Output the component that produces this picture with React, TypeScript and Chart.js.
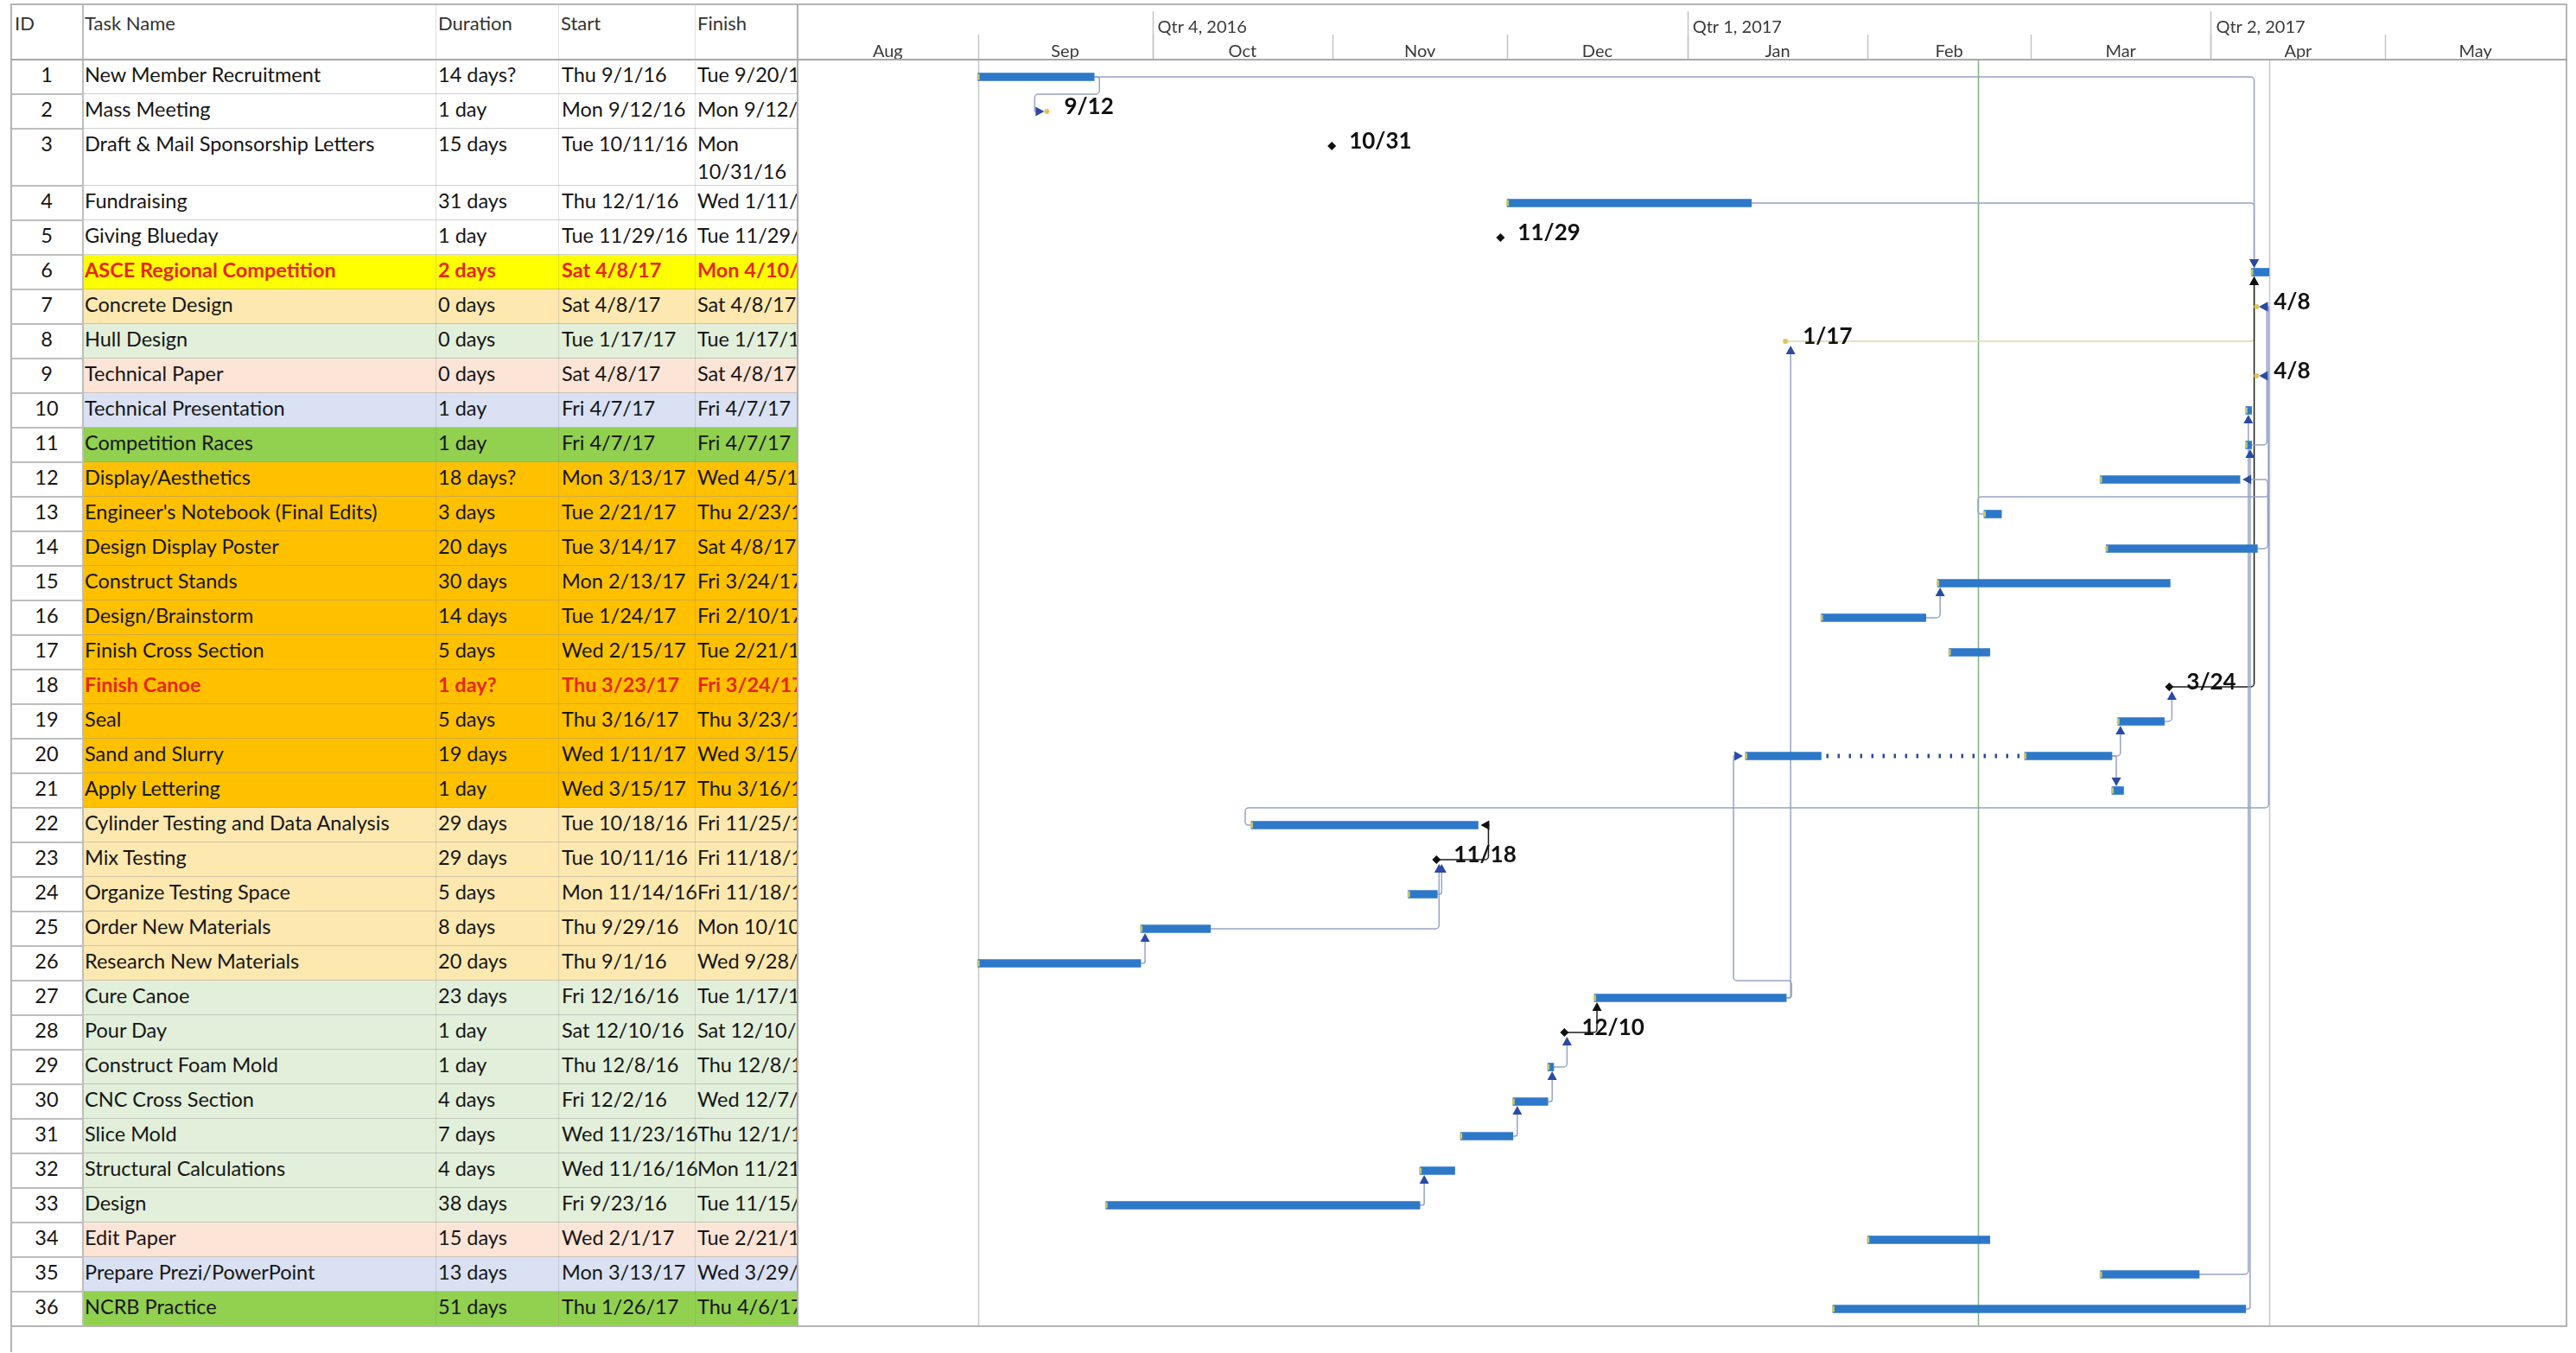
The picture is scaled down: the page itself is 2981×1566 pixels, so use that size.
import React, { useEffect, useRef } from "react";
import { Chart, registerables } from "chart.js";

Chart.register(...registerables);

// ---------------- project sheet ----------------
const taskIds = [
  1, 2, 3, 4, 5, 6, 7, 8, 9, 10, 11, 12, 13, 14, 15, 16, 17, 18,
  19, 20, 21, 22, 23, 24, 25, 26, 27, 28, 29, 30, 31, 32, 33, 34, 35, 36,
];

const taskNames = [
  "New Member Recruitment",
  "Mass Meeting",
  "Draft & Mail Sponsorship Letters",
  "Fundraising",
  "Giving Blueday",
  "ASCE Regional Competition",
  "Concrete Design",
  "Hull Design",
  "Technical Paper",
  "Technical Presentation",
  "Competition Races",
  "Display/Aesthetics",
  "Engineer's Notebook (Final Edits)",
  "Design Display Poster",
  "Construct Stands",
  "Design/Brainstorm",
  "Finish Cross Section",
  "Finish Canoe",
  "Seal",
  "Sand and Slurry",
  "Apply Lettering",
  "Cylinder Testing and Data Analysis",
  "Mix Testing",
  "Organize Testing Space",
  "Order New Materials",
  "Research New Materials",
  "Cure Canoe",
  "Pour Day",
  "Construct Foam Mold",
  "CNC Cross Section",
  "Slice Mold",
  "Structural Calculations",
  "Design",
  "Edit Paper",
  "Prepare Prezi/PowerPoint",
  "NCRB Practice",
];

const durations = [
  "14 days?", "1 day", "15 days", "31 days", "1 day", "2 days", "0 days", "0 days",
  "0 days", "1 day", "1 day", "18 days?", "3 days", "20 days", "30 days", "14 days",
  "5 days", "1 day?", "5 days", "19 days", "1 day", "29 days", "29 days", "5 days",
  "8 days", "20 days", "23 days", "1 day", "1 day", "4 days", "7 days", "4 days",
  "38 days", "15 days", "13 days", "51 days",
];

const startDates = [
  "Thu 9/1/16", "Mon 9/12/16", "Tue 10/11/16", "Thu 12/1/16", "Tue 11/29/16",
  "Sat 4/8/17", "Sat 4/8/17", "Tue 1/17/17", "Sat 4/8/17", "Fri 4/7/17",
  "Fri 4/7/17", "Mon 3/13/17", "Tue 2/21/17", "Tue 3/14/17", "Mon 2/13/17",
  "Tue 1/24/17", "Wed 2/15/17", "Thu 3/23/17", "Thu 3/16/17", "Wed 1/11/17",
  "Wed 3/15/17", "Tue 10/18/16", "Tue 10/11/16", "Mon 11/14/16", "Thu 9/29/16",
  "Thu 9/1/16", "Fri 12/16/16", "Sat 12/10/16", "Thu 12/8/16", "Fri 12/2/16",
  "Wed 11/23/16", "Wed 11/16/16", "Fri 9/23/16", "Wed 2/1/17", "Mon 3/13/17",
  "Thu 1/26/17",
];

const finishDates = [
  "Tue 9/20/16", "Mon 9/12/16", "Mon 10/31/16", "Wed 1/11/17", "Tue 11/29/16",
  "Mon 4/10/17", "Sat 4/8/17", "Tue 1/17/17", "Sat 4/8/17", "Fri 4/7/17",
  "Fri 4/7/17", "Wed 4/5/17", "Thu 2/23/17", "Sat 4/8/17", "Fri 3/24/17",
  "Fri 2/10/17", "Tue 2/21/17", "Fri 3/24/17", "Thu 3/23/17", "Wed 3/15/17",
  "Thu 3/16/17", "Fri 11/25/16", "Fri 11/18/16", "Fri 11/18/16", "Mon 10/10/16",
  "Wed 9/28/16", "Tue 1/17/17", "Sat 12/10/16", "Thu 12/8/16", "Wed 12/7/16",
  "Thu 12/1/16", "Mon 11/21/16", "Tue 11/15/16", "Tue 2/21/17", "Wed 3/29/17",
  "Thu 4/6/17",
];

// team / work-stream of each task (drives the row shading)
const taskGroups = [
  "general", "general", "general", "general", "general",
  "competition", "concrete", "hull", "paper", "presentation", "races",
  "display", "display", "display", "display", "display",
  "display", "display", "display", "display", "display",
  "concrete", "concrete", "concrete", "concrete", "concrete",
  "hull", "hull", "hull", "hull", "hull", "hull", "hull",
  "paper", "presentation", "races",
];

// tasks flagged as milestones (drawn as a marker + date instead of a bar)
const milestoneIds = [2, 3, 5, 7, 8, 9, 18, 23, 28];
const diamondMilestoneIds = [3, 5, 18, 23, 28];

// Sand and Slurry was split into two working periods
const splitTaskId = 20;
const splitParts = [
  ["1/11/17", "1/23/17"],
  ["2/28/17", "3/14/17"],
];

// predecessor, successor, link type
const links: [number, number, string][] = [
  [1, 2, "FS"], [1, 6, "FS"], [4, 6, "FS"], [8, 6, "FS"], [18, 6, "FS"],
  [11, 7, "FF"], [22, 7, "SS"], [13, 9, "SS"], [14, 12, "FF"],
  [35, 10, "FS"], [36, 11, "FS"],
  [16, 15, "FS"], [20, 19, "FS"], [20, 21, "FS"], [19, 18, "FS"],
  [27, 20, "FS"], [27, 8, "FS"],
  [23, 22, "FF"], [25, 23, "FS"], [24, 23, "FS"], [26, 25, "FS"],
  [28, 27, "FS"], [29, 28, "FS"], [30, 29, "FS"], [31, 30, "FS"], [33, 32, "FS"],
];
const criticalLinks = ["18-6", "28-27", "23-22"];
const faintLinks = ["8-6"];

const statusDate = "2/20/17";

// timescale
const monthNames = ["Aug", "Sep", "Oct", "Nov", "Dec", "Jan", "Feb", "Mar", "Apr", "May"];
const monthStarts = [
  "8/1/16", "9/1/16", "10/1/16", "11/1/16", "12/1/16",
  "1/1/17", "2/1/17", "3/1/17", "4/1/17", "5/1/17", "6/1/17",
];
const quarterLabels = ["Qtr 4, 2016", "Qtr 1, 2017", "Qtr 2, 2017"];
const quarterStarts = ["10/1/16", "1/1/17", "4/1/17"];

const columnTitles = ["ID", "Task Name", "Duration", "Start", "Finish"];

// ---------------- styling / layout ----------------
const GROUP_FILL: Record<string, string> = {
  general: "#ffffff",
  competition: "#ffff00",
  concrete: "#fde8b0",
  hull: "#e2efda",
  paper: "#fce4d6",
  presentation: "#d9e1f2",
  races: "#92d050",
  display: "#ffc000",
};
const HIGHLIGHT_IDS = [6, 18];
const WRAPPED_IDS = [3];

const FONT = "Lato, 'Open Sans', sans-serif";
const TEXT_PX = 23.5;
const ROW_H = 40;
const WRAP_EXTRA = 26;
const FRAME_TOP = 5;
const BODY_TOP = 69;
const FRAME_LEFT = 13;
const GRID_LEFT = 923;
const FRAME_RIGHT = 2969;
const PAGE_W = 2981;
const PAGE_H = 1566;
const COL_EDGES = [13, 95, 504, 646, 804, 923];
const MILESTONE_SHIFT = 0.85; // milestones sit at the end of their day

const BAR_BLUE = "#2e78c9";
const LINK_BLUE = "#97a3c6";
const HEAD_BLUE = "#2b4aa3";

// ---------------- derived values ----------------
const EPOCH = Date.UTC(2016, 7, 1);
function dayOf(s: string): number {
  const token = s.trim().split(" ").pop() as string;
  const [m, d, yy] = token.split("/").map(Number);
  return (Date.UTC(2000 + yy, m - 1, d) - EPOCH) / 864e5;
}
function shortDate(s: string): string {
  const token = s.trim().split(" ").pop() as string;
  const [m, d] = token.split("/");
  return `${m}/${d}`;
}

const rowHeights = taskIds.map((id) => ROW_H + (WRAPPED_IDS.includes(id) ? WRAP_EXTRA : 0));
const rowTops: number[] = [];
rowHeights.reduce((acc, h) => {
  rowTops.push(acc);
  return acc + h;
}, 0);
const bodyHeight = rowHeights.reduce((a, b) => a + b, 0);
const markY = rowTops.map((t) => t + 20);

type Geo = { s: number; e: number; y: number; ms: boolean };
const geo = new Map<number, Geo>();
taskIds.forEach((id, i) => {
  const ms = milestoneIds.includes(id);
  const f = dayOf(finishDates[i]);
  if (ms) {
    geo.set(id, { s: f + MILESTONE_SHIFT, e: f + MILESTONE_SHIFT, y: markY[i], ms });
  } else if (id === splitTaskId) {
    geo.set(id, {
      s: dayOf(splitParts[0][0]),
      e: dayOf(splitParts[splitParts.length - 1][1]) + 1,
      y: markY[i],
      ms,
    });
  } else {
    geo.set(id, { s: dayOf(startDates[i]), e: f + 1, y: markY[i], ms });
  }
});

const barData: { x: [number, number]; y: number }[] = [];
taskIds.forEach((id, i) => {
  if (milestoneIds.includes(id)) return;
  if (id === splitTaskId) {
    splitParts.forEach(([a, b]) => barData.push({ x: [dayOf(a), dayOf(b) + 1], y: markY[i] }));
  } else {
    const g = geo.get(id)!;
    barData.push({ x: [g.s, g.e], y: g.y });
  }
});

const diamondData = diamondMilestoneIds.map((id) => ({ x: geo.get(id)!.s, y: geo.get(id)!.y }));
const dotData = milestoneIds
  .filter((id) => !diamondMilestoneIds.includes(id))
  .map((id) => ({ x: geo.get(id)!.s, y: geo.get(id)!.y }));

const projectStart = Math.min(...taskIds.map((id) => geo.get(id)!.s));
const projectFinish = Math.max(...taskIds.map((id) => geo.get(id)!.e));

// ---------------- drawing helpers ----------------
function arrowHead(ctx: CanvasRenderingContext2D, x: number, y: number, dir: string, color: string) {
  const w = 5.5;
  const h = 10;
  ctx.fillStyle = color;
  ctx.beginPath();
  if (dir === "down") {
    ctx.moveTo(x, y); ctx.lineTo(x - w, y - h); ctx.lineTo(x + w, y - h);
  } else if (dir === "up") {
    ctx.moveTo(x, y); ctx.lineTo(x - w, y + h); ctx.lineTo(x + w, y + h);
  } else if (dir === "right") {
    ctx.moveTo(x, y); ctx.lineTo(x - h, y - w); ctx.lineTo(x - h, y + w);
  } else {
    ctx.moveTo(x, y); ctx.lineTo(x + h, y - w); ctx.lineTo(x + h, y + w);
  }
  ctx.closePath();
  ctx.fill();
}

function roundedPolyline(ctx: CanvasRenderingContext2D, pts: number[][], r: number) {
  ctx.beginPath();
  ctx.moveTo(pts[0][0], pts[0][1]);
  for (let i = 1; i < pts.length - 1; i++) {
    const [ax, ay] = pts[i - 1];
    const [bx, by] = pts[i];
    const [cx, cy] = pts[i + 1];
    const rr = Math.min(r, Math.hypot(bx - ax, by - ay) / 2, Math.hypot(cx - bx, cy - by) / 2);
    if (rr < 0.5) ctx.lineTo(bx, by);
    else ctx.arcTo(bx, by, cx, cy, rr);
  }
  const last = pts[pts.length - 1];
  ctx.lineTo(last[0], last[1]);
  ctx.stroke();
}

type Route = { pts: number[][]; tip: [number, number]; dir: string };

function routeLink(chart: any, p: number, s: number, type: string): Route {
  const X = (v: number) => chart.scales.x.getPixelForValue(v);
  const Y = (v: number) => chart.scales.y.getPixelForValue(v);
  const P = geo.get(p)!;
  const S = geo.get(s)!;
  const py = Y(P.y);
  const sy = Y(S.y);
  const H = 10;
  if (type === "FS") {
    const px = X(P.e);
    const sx = X(S.s);
    if (sx >= px - 2) {
      const vx = Math.max(px + 5, sx + 3);
      const down = sy > py;
      const tipY = down ? sy - 5 : sy + 5;
      return {
        pts: [[px, py], [vx, py], [vx, down ? tipY - H : tipY + H]],
        tip: [vx, tipY],
        dir: down ? "down" : "up",
      };
    }
    const down = sy > py;
    const midY = py + (down ? 20 : -20);
    const lx = sx - 14;
    const tipX = sx - 3;
    return {
      pts: [[px, py], [px + 6, py], [px + 6, midY], [lx, midY], [lx, sy], [tipX - H, sy]],
      tip: [tipX, sy],
      dir: "right",
    };
  }
  if (type === "FF") {
    const px = X(P.e);
    const sx = X(S.e);
    const vx = Math.max(px, sx) + 12;
    const tipX = sx + 3;
    return { pts: [[px, py], [vx, py], [vx, sy], [tipX + H, sy]], tip: [tipX, sy], dir: "left" };
  }
  // leaves from the predecessor's start and loops back over it
  const px = X(P.s);
  const sx = X(S.e);
  const midY = py - 20;
  const vx = sx + 14;
  const tipX = sx + 3;
  return {
    pts: [[px, py], [px - 7, py], [px - 7, midY], [vx, midY], [vx, sy], [tipX + H, sy]],
    tip: [tipX, sy],
    dir: "left",
  };
}

function linkColors(p: number, s: number) {
  const key = `${p}-${s}`;
  if (criticalLinks.includes(key)) return { line: "#1c1c1c", head: "#111111" };
  if (faintLinks.includes(key)) return { line: "#e0d6a8", head: "#111111" };
  return { line: LINK_BLUE, head: HEAD_BLUE };
}

const ganttPlugin = {
  id: "ganttDecor",
  beforeDatasetsDraw(chart: any) {
    const { ctx, chartArea, scales } = chart;
    const x = scales.x;
    ctx.save();
    const vline = (day: number, color: string, w: number) => {
      const px = Math.round(x.getPixelForValue(day)) + 0.5;
      ctx.strokeStyle = color;
      ctx.lineWidth = w;
      ctx.beginPath();
      ctx.moveTo(px, chartArea.top);
      ctx.lineTo(px, chartArea.bottom);
      ctx.stroke();
    };
    vline(projectStart, "#c6c6c6", 1.5);
    vline(projectFinish, "#c6c6c6", 1.5);
    vline(dayOf(statusDate), "#84b184", 1.5);

    ctx.lineJoin = "round";
    for (const [p, s, type] of links) {
      const r = routeLink(chart, p, s, type);
      ctx.strokeStyle = linkColors(p, s).line;
      ctx.lineWidth = 1.5;
      roundedPolyline(ctx, r.pts, 4);
    }
    ctx.restore();
  },
  afterDatasetsDraw(chart: any) {
    const { ctx, scales } = chart;
    const X = (v: number) => scales.x.getPixelForValue(v);
    const Y = (v: number) => scales.y.getPixelForValue(v);
    ctx.save();

    // progress nub at the start of every bar
    const meta = chart.getDatasetMeta(0);
    meta.data.forEach((el: any) => {
      const left = Math.min(el.x, el.base);
      ctx.fillStyle = "rgba(206, 200, 110, 0.95)";
      ctx.fillRect(left - 1, el.y - 3.5, 3, 7);
    });

    // dotted connector between the pieces of the split task
    const sy = Y(geo.get(splitTaskId)!.y);
    ctx.strokeStyle = "#2b4b97";
    ctx.lineWidth = 5;
    ctx.setLineDash([2.5, 10.5]);
    for (let i = 0; i < splitParts.length - 1; i++) {
      const a = X(dayOf(splitParts[i][1]) + 1) + 6;
      const b = X(dayOf(splitParts[i + 1][0])) - 5;
      ctx.beginPath();
      ctx.moveTo(a, sy);
      ctx.lineTo(b, sy);
      ctx.stroke();
    }
    ctx.setLineDash([]);

    // arrowheads
    for (const [p, s, type] of links) {
      const r = routeLink(chart, p, s, type);
      arrowHead(ctx, r.tip[0], r.tip[1], r.dir, linkColors(p, s).head);
    }

    // milestone dates
    ctx.fillStyle = "#111111";
    ctx.font = `bold 26px ${FONT}`;
    ctx.textBaseline = "middle";
    ctx.textAlign = "left";
    milestoneIds.forEach((id) => {
      const g = geo.get(id)!;
      const i = taskIds.indexOf(id);
      ctx.fillText(shortDate(finishDates[i]), X(g.s) + 20, Y(g.y) - 5);
    });
    ctx.restore();
  },
  afterDraw(chart: any) {
    const { ctx, chartArea, scales } = chart;
    const X = (v: number) => scales.x.getPixelForValue(v);
    const bottom = chartArea.top;
    ctx.save();
    ctx.strokeStyle = "#c4c4c4";
    ctx.lineWidth = 1.5;
    monthStarts.forEach((m, i) => {
      if (i === 0 || i === monthStarts.length - 1) return;
      const px = Math.round(X(dayOf(m))) + 0.5;
      ctx.beginPath();
      ctx.moveTo(px, 35);
      ctx.lineTo(px, bottom);
      ctx.stroke();
    });
    quarterStarts.forEach((q) => {
      const px = Math.round(X(dayOf(q))) + 0.5;
      ctx.beginPath();
      ctx.moveTo(px, 8);
      ctx.lineTo(px, bottom);
      ctx.stroke();
    });
    ctx.fillStyle = "#3a3a3a";
    ctx.font = `20px ${FONT}`;
    ctx.textBaseline = "middle";
    ctx.textAlign = "center";
    monthNames.forEach((n, i) => {
      const cx = (X(dayOf(monthStarts[i])) + X(dayOf(monthStarts[i + 1]))) / 2;
      ctx.fillText(n, cx, 55);
    });
    ctx.textAlign = "left";
    quarterLabels.forEach((q, i) => {
      ctx.fillText(q, X(dayOf(quarterStarts[i])) + 6, 27);
    });
    ctx.restore();
  },
};

// ---------------- components ----------------
function Sheet() {
  const cells: React.ReactNode[] = [];
  const colLeft = COL_EDGES;
  columnTitles.forEach((t, c) => {
    cells.push(
      <div
        key={`h${c}`}
        style={{
          position: "absolute",
          left: colLeft[c] + (c === 0 ? 4 : 3),
          top: 12,
          lineHeight: "30px",
          fontSize: 22,
          color: "#333",
          whiteSpace: "nowrap",
        }}
      >
        {t}
      </div>
    );
  });

  taskIds.forEach((id, i) => {
    const top = BODY_TOP + rowTops[i];
    const h = rowHeights[i];
    const hi = HIGHLIGHT_IDS.includes(id);
    const wrap = WRAPPED_IDS.includes(id);
    const textStyle: React.CSSProperties = {
      position: "absolute",
      top,
      height: h,
      paddingTop: 1,
      boxSizing: "border-box",
      lineHeight: "32px",
      fontSize: TEXT_PX,
      color: hi ? "#e5281c" : "#161616",
      fontWeight: hi ? 700 : 400,
      overflow: "hidden",
      whiteSpace: "nowrap",
    };
    cells.push(
      <div
        key={`f${id}`}
        style={{
          position: "absolute",
          left: colLeft[1],
          top,
          width: colLeft[5] - colLeft[1],
          height: h,
          background: GROUP_FILL[taskGroups[i]],
        }}
      />
    );
    cells.push(
      <div key={`id${id}`} style={{ ...textStyle, left: colLeft[0], width: colLeft[1] - colLeft[0], textAlign: "center", color: "#161616", fontWeight: 400 }}>
        {id}
      </div>
    );
    cells.push(
      <div key={`n${id}`} style={{ ...textStyle, left: colLeft[1] + 3, width: colLeft[2] - colLeft[1] - 4 }}>
        {taskNames[i]}
      </div>
    );
    cells.push(
      <div key={`d${id}`} style={{ ...textStyle, left: colLeft[2] + 3, width: colLeft[3] - colLeft[2] - 4 }}>
        {durations[i]}
      </div>
    );
    cells.push(
      <div key={`s${id}`} style={{ ...textStyle, left: colLeft[3] + 4, width: colLeft[4] - colLeft[3] - 1 }}>
        {startDates[i]}
      </div>
    );
    cells.push(
      <div
        key={`e${id}`}
        style={{
          ...textStyle,
          left: colLeft[4] + 3,
          width: colLeft[5] - colLeft[4] - 3,
          whiteSpace: wrap ? "normal" : "nowrap",
        }}
      >
        {finishDates[i]}
      </div>
    );
    cells.push(
      <div key={`rl${id}`} style={{ position: "absolute", left: colLeft[0], top: top + h - 1, width: colLeft[1] - colLeft[0], height: 2, background: "#bdbdbd" }} />
    );
    cells.push(
      <div key={`rr${id}`} style={{ position: "absolute", left: colLeft[1], top: top + h - 1, width: colLeft[5] - colLeft[1], height: 2, background: "rgba(150,150,150,0.45)" }} />
    );
  });

  colLeft.slice(1, 5).forEach((x, c) => {
    cells.push(
      <div
        key={`v${c}`}
        style={{
          position: "absolute",
          left: x,
          top: FRAME_TOP,
          width: c === 0 ? 2 : 1,
          height: BODY_TOP + bodyHeight - FRAME_TOP,
          background: c === 0 ? "#bdbdbd" : "rgba(120,120,120,0.22)",
        }}
      />
    );
  });
  return <>{cells}</>;
}

function Frame() {
  const line = (key: string, left: number, top: number, width: number, height: number, bg: string) => (
    <div key={key} style={{ position: "absolute", left, top, width, height, background: bg }} />
  );
  const bottom = BODY_TOP + bodyHeight;
  return (
    <>
      {line("top", FRAME_LEFT - 1, FRAME_TOP - 1, FRAME_RIGHT - FRAME_LEFT + 3, 2, "#b4b4b4")}
      {line("left", FRAME_LEFT - 1, FRAME_TOP - 1, 2, PAGE_H - FRAME_TOP, "#b4b4b4")}
      {line("right", FRAME_RIGHT, FRAME_TOP - 1, 2, bottom - FRAME_TOP + 2, "#b4b4b4")}
      {line("split", GRID_LEFT - 1, FRAME_TOP - 1, 2, bottom - FRAME_TOP + 2, "#b0b0b0")}
      {line("head", FRAME_LEFT - 1, BODY_TOP - 1, FRAME_RIGHT - FRAME_LEFT + 3, 2, "#a8a8a8")}
      {line("foot", FRAME_LEFT - 1, bottom - 1, FRAME_RIGHT - FRAME_LEFT + 3, 2, "#b4b4b4")}
    </>
  );
}

export default function App() {
  const canvasRef = useRef<HTMLCanvasElement | null>(null);

  useEffect(() => {
    const canvas = canvasRef.current;
    if (!canvas) return;
    const chart = new Chart(canvas, {
      type: "bar",
      data: {
        datasets: [
          {
            type: "bar",
            label: "Tasks",
            data: barData as any,
            indexAxis: "y",
            backgroundColor: BAR_BLUE,
            borderWidth: 0,
            borderSkipped: false,
            barThickness: 9,
            order: 2,
          } as any,
          {
            type: "scatter",
            label: "Milestones",
            data: diamondData,
            pointStyle: "rectRot",
            pointRadius: 5,
            backgroundColor: "#111111",
            borderColor: "#111111",
            borderWidth: 0,
            order: 1,
          } as any,
          {
            type: "scatter",
            label: "Zero-length tasks",
            data: dotData,
            pointStyle: "circle",
            pointRadius: 3,
            backgroundColor: "#e2c25c",
            borderWidth: 0,
            order: 1,
          } as any,
        ],
      },
      options: {
        responsive: false,
        animation: false,
        devicePixelRatio: 1,
        events: [],
        layout: {
          autoPadding: false,
          padding: { top: BODY_TOP - FRAME_TOP, bottom: PAGE_H - (BODY_TOP + bodyHeight), left: 0, right: 1 },
        },
        scales: {
          x: {
            type: "linear",
            min: dayOf(monthStarts[0]),
            max: dayOf(monthStarts[monthStarts.length - 1]),
            offset: false,
            grace: 0,
            bounds: "data",
            display: false,
          },
          y: {
            type: "linear",
            min: 0,
            max: bodyHeight,
            reverse: true,
            offset: false,
            grace: 0,
            bounds: "data",
            display: false,
          },
        },
        plugins: { legend: { display: false }, tooltip: { enabled: false } },
      } as any,
      plugins: [ganttPlugin as any],
    });
    return () => chart.destroy();
  }, []);

  return (
    <div
      style={{
        position: "absolute",
        left: 0,
        top: 0,
        width: PAGE_W,
        height: PAGE_H,
        overflow: "hidden",
        background: "#ffffff",
        fontFamily: FONT,
      }}
    >
      <Sheet />
      <canvas
        ref={canvasRef}
        width={FRAME_RIGHT + 1 - GRID_LEFT}
        height={PAGE_H - FRAME_TOP}
        style={{ position: "absolute", left: GRID_LEFT, top: FRAME_TOP, width: FRAME_RIGHT + 1 - GRID_LEFT, height: PAGE_H - FRAME_TOP }}
      />
      <Frame />
    </div>
  );
}
